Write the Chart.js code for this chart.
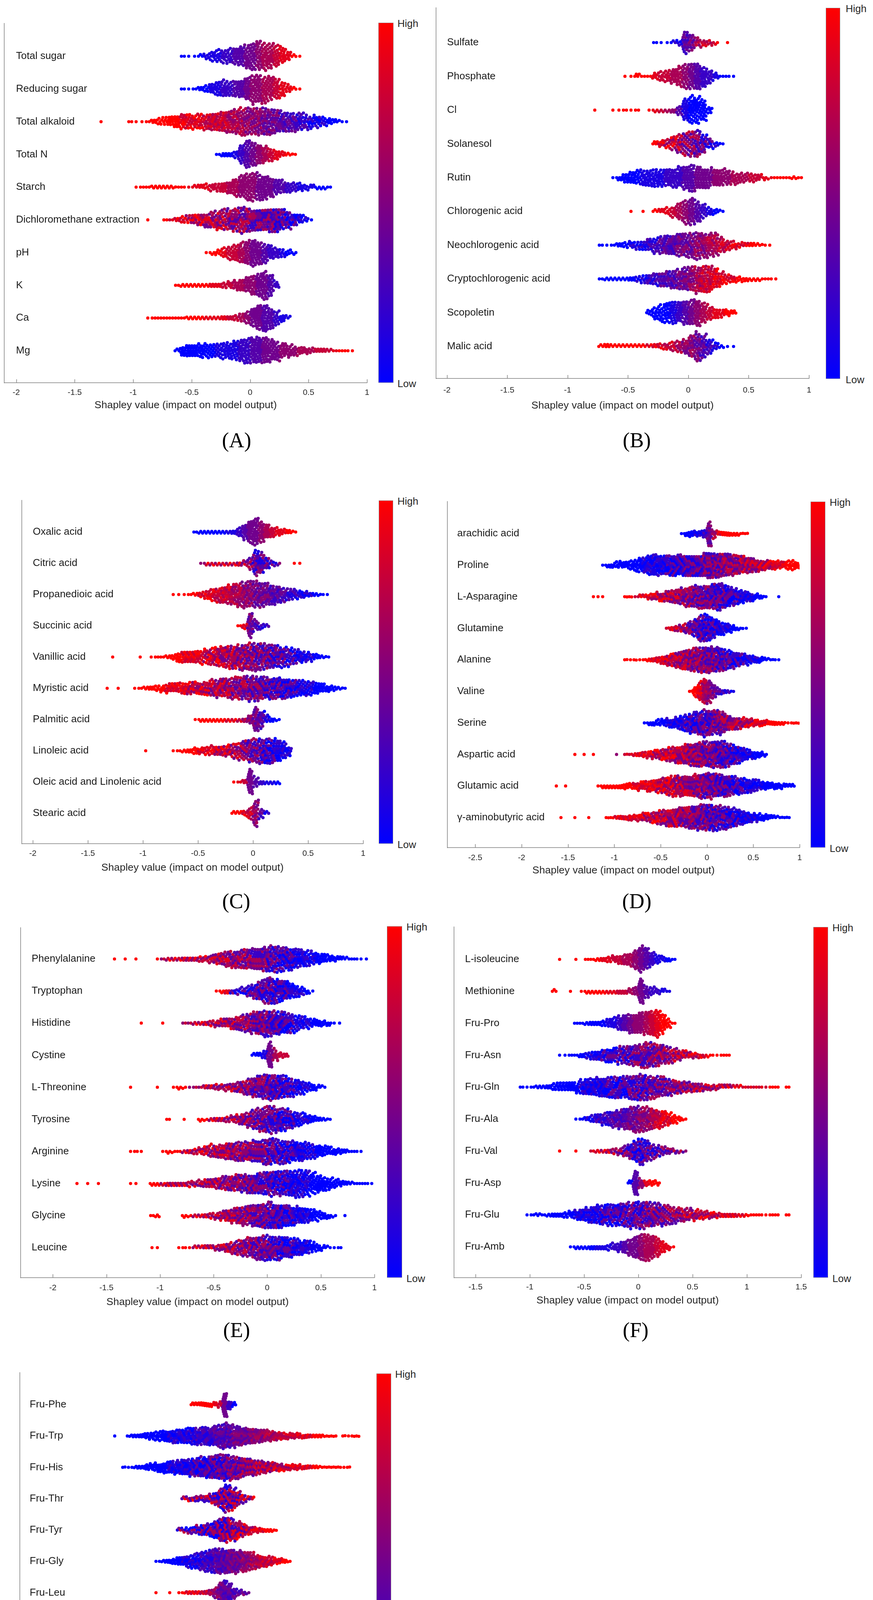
<!DOCTYPE html>
<html><head><meta charset="utf-8">
<script src="https://cdn.jsdelivr.net/npm/chart.js@4.4.1/dist/chart.umd.min.js"></script>
<style>
html,body{margin:0;padding:0;background:#fff;}
body{width:2236px;height:4574px;position:relative;overflow:hidden;font-family:"Liberation Sans",Arial,sans-serif;}
canvas{position:absolute;}
.cb{position:absolute;background:linear-gradient(to bottom,#ff0000,#0000ff);border:1px solid #9a9a9a;box-sizing:border-box;}
.cbl{position:absolute;font-size:26px;color:#262626;line-height:1;transform:translateY(-50%);white-space:nowrap;}
.cap{position:absolute;font-family:"Liberation Serif","Times New Roman",serif;font-size:54px;color:#000;transform:translate(-50%,-50%);line-height:1;white-space:nowrap;}
</style></head><body>
<script>
// ---------- DATA: per panel, per feature: start of first 0.05-wide SHAP bin, dot counts per bin,
// feature-value colour per bin (0 = low/blue ... 9 = high/red) and how mixed the colours look in each row
const BIN = 0.05;

const A_names = ["Total sugar","Reducing sugar","Total alkaloid","Total N","Starch","Dichloromethane extraction","pH","K","Ca","Mg"];
const A_ticks = [-2,-1.5,-1,-0.5,0,0.5,1];
const A_lo = [-0.60,-0.60,-1.30,-0.30,-1.00,-0.90,-0.40,-0.65,-0.90,-0.65];
const A_mix = [0,0,1,0,0,2,0,0,0,0];
const A_n = [
[2,1,1,3,5,8,10,11,12,14,17,20,22,23,22,20,18,14,8,3,1],
[2,1,2,4,6,9,12,14,12,13,15,20,23,23,22,20,17,12,7,3,1],
[1,0,0,0,0,2,1,1,2,4,6,7,9,11,13,13,12,13,13,15,16,18,19,21,23,23,22,23,23,22,20,18,16,16,15,12,11,10,8,6,4,2,1],
[2,4,4,6,16,23,20,17,14,11,8,5,3,2],
[1,2,2,3,3,3,3,2,2,1,3,4,5,6,7,9,11,15,19,22,23,22,21,17,13,11,9,8,7,5,4,3,3,2],
[1,0,0,2,2,4,6,7,9,10,12,14,16,17,18,20,22,21,19,19,19,21,22,18,15,11,8,5,1],
[1,3,5,8,11,14,17,20,23,20,16,12,9,7,5,3],
[2,3,3,3,3,3,4,4,5,6,8,10,13,16,20,24,18,6],
[1,2,2,2,2,2,2,3,3,3,3,3,3,4,4,5,7,10,16,22,23,18,12,7,3],
[3,9,11,11,12,12,12,12,13,14,16,19,21,22,23,23,19,16,13,11,9,7,6,5,4,4,3,2,2,2,1]];
const A_c = [
[0,0,0,0,1,1,1,2,2,3,3,4,4,5,6,6,7,8,8,9,9],
[0,0,0,0,0,1,1,2,2,3,3,4,5,5,6,6,7,8,8,9,9],
[9,9,9,9,9,9,9,9,9,9,9,9,9,9,8,8,8,8,7,7,7,7,6,6,6,5,5,5,4,4,4,3,3,3,2,2,1,1,1,0,0,0,0],
[0,0,0,1,2,3,4,5,6,7,8,8,9,9],
[9,9,9,9,9,9,9,9,9,8,8,8,8,7,7,7,6,6,5,5,5,4,4,4,3,3,2,2,1,1,1,0,0,0],
[9,9,9,9,8,8,8,7,7,7,6,6,6,6,5,5,5,5,4,4,4,4,3,3,2,2,1,1,0],
[9,9,9,8,7,7,6,5,4,4,3,2,2,1,0,0],
[9,9,9,9,9,9,8,8,7,7,6,6,5,5,4,4,3,2],
[9,9,9,9,9,9,9,9,9,9,8,8,8,8,7,7,6,5,4,4,3,3,2,1,1],
[0,0,0,0,0,0,0,1,1,1,1,2,2,3,3,4,4,4,5,5,5,6,6,6,7,7,7,8,9,9,9]];

const B_names = ["Sulfate","Phosphate","Cl","Solanesol","Rutin","Chlorogenic acid","Neochlorogenic acid","Cryptochlorogenic acid","Scopoletin","Malic acid"];
const B_ticks = [-2,-1.5,-1,-0.5,0,0.5,1];
const B_lo = [-0.30,-0.55,-0.80,-0.30,-0.65,-0.50,-0.75,-0.75,-0.35,-0.75];
const B_mix = [1,0,0,2,0,0,1,1,0,1];
const B_n = [
[2,1,1,3,5,20,14,8,6,5,3,0,1],
[1,1,4,2,2,6,8,10,13,17,20,22,23,18,12,6,2,2,1],
[1,0,0,1,1,2,1,2,0,1,3,3,3,4,8,19,23,22,18,6],
[4,6,8,12,16,19,21,23,16,9,5,2],
[1,4,8,10,12,13,14,15,15,15,16,18,20,23,20,18,16,15,14,13,11,9,8,8,6,4,2,2,2,2,3,2],
[1,0,1,0,3,4,6,9,14,19,23,18,12,7,5,2],
[2,1,2,4,5,6,7,8,11,13,15,17,18,20,20,21,23,21,20,19,13,9,7,5,4,4,3,2,1],
[2,3,3,3,3,4,5,7,9,10,12,14,16,17,20,21,22,23,23,17,12,8,6,5,4,3,3,2,2,1],
[5,10,14,17,19,18,20,21,23,17,12,9,7,6,4],
[3,4,3,3,3,3,3,3,3,4,5,6,8,10,13,19,25,20,13,7,3,1,1]];
const B_c = [
[0,0,0,1,1,3,4,6,7,7,8,9,9],
[9,9,9,9,9,8,7,7,6,6,5,4,3,2,2,1,0,0,0],
[9,9,9,9,9,9,9,9,9,9,8,7,6,5,3,1,0,0,0,0],
[9,8,7,7,6,5,5,4,3,2,1,0],
[0,0,0,0,0,1,1,1,1,2,2,2,3,3,4,4,4,5,5,5,6,6,6,7,7,8,8,9,9,9,9,9],
[9,9,9,9,9,8,8,7,6,5,4,3,2,1,0,0],
[0,0,0,0,0,1,1,1,2,2,3,3,3,4,4,4,5,5,6,6,7,7,8,8,8,9,9,9,9],
[0,0,0,0,0,0,1,1,2,2,3,3,3,4,4,5,6,7,7,8,8,8,8,9,9,9,9,9,9,9],
[0,0,0,0,1,2,3,4,5,6,7,8,8,9,9],
[9,9,9,9,9,9,9,9,8,8,8,7,7,6,5,5,4,3,2,1,0,0,0]];

const C_names = ["Oxalic acid","Citric acid","Propanedioic acid","Succinic acid","Vanillic acid","Myristic acid","Palmitic acid","Linoleic acid","Oleic acid and Linolenic acid","Stearic acid"];
const C_ticks = [-2,-1.5,-1,-0.5,0,0.5,1];
const C_lo = [-0.55,-0.50,-0.75,-0.15,-1.30,-1.35,-0.55,-1.00,-0.20,-0.20];
const C_mix = [0,2,1,1,2,2,1,2,0,1];
const C_n = [
[2,3,3,3,3,3,3,4,8,13,20,23,18,13,9,7,5,4,2],
[1,3,3,3,3,3,3,4,5,10,22,18,10,5,3,0,0,1,1],
[1,1,1,2,3,5,7,10,12,14,16,18,20,22,22,22,21,19,17,15,12,10,9,7,6,4,3,2,1],
[2,5,22,9,5,3],
[1,0,0,0,0,1,0,1,2,2,3,5,9,10,10,11,11,12,14,16,18,19,20,21,22,23,23,22,21,20,19,17,15,13,11,9,7,5,3,2],
[1,0,1,0,0,1,2,3,4,5,6,8,8,9,10,11,11,11,12,14,15,16,17,18,19,20,21,21,20,19,19,19,18,17,15,14,13,12,10,8,6,5,3,2],
[1,3,3,3,3,3,3,3,3,4,8,21,15,7,4,2],
[1,0,0,0,0,1,2,3,4,6,6,7,8,8,9,10,12,14,17,19,20,21,22,21,19,15,9],
[1,2,4,22,8,4,3,3,3],
[3,3,5,10,22,8,3]];
const C_c = [
[0,0,0,0,0,0,1,1,2,3,4,4,5,6,7,8,8,9,9],
[7,7,7,7,7,7,7,7,6,5,3,3,3,3,3,9,9,9,9],
[9,9,9,9,9,8,8,8,7,7,7,6,6,5,5,4,4,4,3,3,3,2,2,1,1,1,0,0,0],
[9,8,4,3,2,2],
[9,9,9,9,9,9,9,9,9,9,9,9,9,8,8,8,8,7,7,7,6,6,6,5,5,5,4,4,4,3,3,3,2,2,1,1,1,0,0,0],
[9,9,9,9,9,9,9,9,9,9,9,8,8,8,8,7,7,7,7,6,6,6,6,5,5,5,4,4,4,3,3,3,2,2,2,1,1,1,0,0,0,0,0,0],
[9,9,9,9,9,9,8,8,7,6,5,4,3,1,0,0],
[9,9,9,9,9,9,9,9,9,9,8,8,8,7,7,7,6,6,5,4,4,3,2,2,1,1,1],
[9,8,7,4,3,2,1,1,0],
[9,9,8,7,5,3,1]];

const D_names = ["arachidic acid","Proline","L-Asparagine","Glutamine","Alanine","Valine","Serine","Aspartic acid","Glutamic acid","γ-aminobutyric acid"];
const D_ticks = [-2.5,-2,-1.5,-1,-0.5,0,0.5,1];
const D_lo = [-0.30,-1.15,-1.25,-0.45,-0.90,-0.20,-0.70,-1.45,-1.65,-1.60];
const D_mix = [1,2,2,2,2,1,2,2,2,2];
const D_n = [
[1,4,5,5,5,7,22,7,4,4,4,3,3,2,2],
[1,3,4,5,6,6,7,9,11,13,16,18,17,16,17,18,18,18,19,19,19,19,21,23,22,21,20,19,18,17,15,14,13,11,10,9,8,8,7,6,7,8,6],
[1,1,1,0,0,0,0,2,2,1,3,3,5,6,7,8,9,11,12,14,15,17,18,19,19,20,22,23,21,18,15,13,11,9,7,5,4,2,0,0,1],
[2,4,5,6,8,11,15,21,23,20,16,13,10,8,6,3,2,1],
[2,1,2,1,2,3,4,5,7,9,11,13,15,17,19,20,21,22,23,22,20,18,16,14,12,10,9,7,6,5,3,2,2,1],
[2,9,16,22,18,11,6,4,3,2],
[1,3,4,5,6,7,8,10,12,14,16,18,20,22,21,21,21,18,13,11,10,9,8,7,6,6,5,4,4,3,3,1,2,2],
[1,0,1,0,1,0,0,0,0,1,0,2,2,3,4,5,6,7,8,9,11,12,14,15,17,18,20,21,21,21,22,22,23,20,17,15,12,10,7,6,5,3],
[1,0,1,0,0,0,0,0,0,1,3,3,3,3,4,5,5,6,7,8,9,10,12,13,15,16,17,17,18,18,19,20,21,22,21,20,19,18,16,14,13,12,11,10,8,7,6,6,5,4,3,3],
[1,0,0,1,0,0,1,0,0,0,2,2,3,4,4,5,5,6,7,8,9,11,12,14,15,16,17,18,19,20,21,22,22,21,20,19,18,16,14,12,10,8,7,6,6,4,3,2,2,2]];
const D_c = [
[0,0,0,1,1,2,4,6,8,9,9,9,9,9,9],
[0,0,0,0,0,0,0,0,0,1,1,1,1,1,2,2,2,2,3,3,3,3,4,4,4,4,5,5,5,5,6,6,6,6,7,7,7,8,8,8,9,9,9],
[9,9,9,9,9,9,9,9,9,8,8,8,8,7,7,7,6,6,6,5,5,5,4,4,4,4,3,3,3,2,2,2,1,1,1,0,0,0,0,0,0],
[8,8,7,6,5,4,3,3,2,2,2,1,1,1,0,0,0,0],
[9,9,9,9,9,9,8,8,8,7,7,6,6,6,5,5,5,4,4,4,3,3,3,2,2,2,1,1,1,0,0,0,0,0],
[9,9,8,6,5,4,3,2,2,1],
[0,0,0,0,0,1,1,1,1,2,2,2,3,3,3,4,4,5,5,6,6,6,7,7,8,8,8,9,9,9,9,9,9,9],
[9,9,9,9,9,9,9,9,9,7,7,8,8,8,8,8,8,7,7,7,7,7,6,6,6,5,5,5,4,4,4,3,3,3,2,2,1,1,1,0,0,0],
[9,9,9,9,9,9,9,9,9,9,9,9,9,9,9,9,9,8,8,8,8,8,7,7,7,7,6,6,6,5,5,5,4,4,4,3,3,3,2,2,2,1,1,1,1,0,0,0,0,0,0,0],
[9,9,9,9,9,9,9,9,9,9,9,9,8,8,8,8,8,8,7,7,7,7,6,6,6,6,5,5,5,4,4,4,3,3,3,3,2,2,2,1,1,1,1,0,0,0,0,0,0,0]];

const E_names = ["Phenylalanine","Tryptophan","Histidine","Cystine","L-Threonine","Tyrosine","Arginine","Lysine","Glycine","Leucine"];
const E_ticks = [-2,-1.5,-1,-0.5,0,0.5,1];
const E_lo = [-1.45,-0.50,-1.20,-0.15,-1.30,-0.95,-1.30,-1.80,-1.10,-1.10];
const E_mix = [2,2,2,0,2,2,2,2,2,2];
const E_n = [
[1,0,1,0,1,0,0,0,1,2,3,3,3,4,4,4,5,5,7,9,11,13,14,15,16,17,18,19,21,22,22,21,20,19,17,15,13,11,9,8,6,5,4,3,2,2,1,1],
[1,3,4,4,5,6,9,12,16,20,23,21,19,16,13,10,7,4,1],
[1,0,0,0,1,0,0,0,2,2,3,3,4,5,6,7,8,10,12,14,16,19,21,22,22,21,20,18,16,13,11,9,7,6,5,4,1,1],
[3,4,7,22,9,5,4],
[1,0,0,0,0,1,0,0,1,3,2,1,2,2,4,4,5,5,6,7,9,11,14,17,19,21,22,21,20,18,15,13,11,8,6,4,2],
[2,0,0,1,0,0,3,2,3,4,4,5,6,8,10,13,16,19,21,23,21,20,18,15,12,10,8,6,4,3,2],
[1,2,1,0,0,0,1,3,2,2,3,4,5,6,8,10,11,12,14,15,16,17,17,18,19,21,22,21,20,19,18,17,16,14,12,10,9,7,6,5,4,2,2,1],
[1,0,1,0,1,0,0,0,0,0,1,1,0,0,3,3,3,4,4,4,4,5,5,6,7,8,9,11,12,13,14,15,16,17,18,19,20,20,21,21,22,23,22,20,17,15,12,10,8,6,4,3,2,2,2,1],
[2,3,0,0,0,0,3,2,3,3,4,5,6,8,10,12,14,16,17,19,20,21,22,21,20,19,17,15,14,12,10,8,6,4,2,0,1],
[1,1,0,0,0,1,2,1,3,3,4,4,5,6,8,10,12,14,16,18,20,22,21,20,20,18,17,15,13,11,9,6,4,2,1,2]];
const E_c = [
[9,9,9,9,9,9,9,9,9,7,7,7,7,7,7,7,7,7,6,6,6,6,5,5,5,5,4,4,4,3,3,2,2,2,1,1,1,1,0,0,0,0,0,0,0,0,0,0],
[9,9,8,3,2,2,2,3,3,3,3,2,2,2,1,1,1,0,0],
[9,9,9,9,9,9,9,9,7,7,7,7,7,7,6,6,6,6,5,5,5,4,4,4,3,3,2,2,2,1,1,1,0,0,0,0,0,0],
[0,0,1,4,6,7,7],
[9,9,9,9,9,9,9,9,9,9,9,7,7,7,7,7,6,6,6,6,5,5,5,4,4,4,3,3,2,2,2,1,1,1,0,0,0],
[9,9,9,9,9,9,9,9,7,7,7,6,6,6,5,5,4,4,4,3,3,2,2,2,1,1,1,0,0,0,0],
[9,9,9,9,9,9,9,9,9,9,7,7,7,7,7,6,6,6,6,5,5,5,5,4,4,4,3,3,2,2,2,1,1,1,1,0,0,0,0,0,0,0,0,0],
[9,9,9,9,9,9,9,9,9,9,9,9,9,9,9,9,7,7,7,7,7,7,6,6,6,6,6,5,5,5,5,4,4,4,3,3,3,2,2,2,1,1,1,1,0,0,0,0,0,0,0,0,0,0,0,0],
[9,9,9,9,9,9,9,9,7,7,7,7,6,6,6,6,5,5,5,4,4,4,3,3,2,2,2,1,1,1,0,0,0,0,0,0,0],
[9,9,9,9,9,9,9,9,7,7,7,7,6,6,6,6,5,5,5,4,4,4,3,3,2,2,2,1,1,1,0,0,0,0,0,0]];

const F_names = ["L-isoleucine","Methionine","Fru-Pro","Fru-Asn","Fru-Gln","Fru-Ala","Fru-Val","Fru-Asp","Fru-Glu","Fru-Amb"];
const F_ticks = [-1.5,-1,-0.5,0,0.5,1,1.5];
const F_lo = [-0.75,-0.80,-0.60,-0.75,-1.10,-0.60,-0.75,-0.10,-1.05,-0.65];
const F_mix = [0,0,0,2,2,1,2,0,2,0];
const F_n = [
[1,0,0,1,0,2,2,3,4,5,6,7,9,11,16,23,18,12,8,5,4,2],
[3,0,0,1,0,1,3,3,3,3,3,3,4,4,5,7,22,10,7,5,4,2],
[2,2,3,4,4,5,7,9,12,14,16,17,18,19,21,23,16,8,2],
[1,1,2,2,4,5,7,8,10,12,13,14,15,16,18,20,22,21,19,17,14,12,9,7,6,5,4,3,2,1,2,2],
[2,1,2,3,3,4,6,7,7,8,9,12,14,15,16,17,18,18,19,19,20,21,22,21,19,18,17,14,13,11,10,9,8,7,6,5,5,4,4,3,3,2,2,2,2,1,2,2,0,2],
[1,2,4,6,8,10,12,14,16,18,20,22,21,20,18,16,14,11,8,5,2],
[1,0,0,1,0,0,2,3,3,4,5,6,9,13,18,23,18,13,10,8,6,4,3,2],
[4,22,8,5,5,4],
[1,2,3,2,3,4,4,5,6,8,10,12,14,16,17,18,18,19,20,21,22,23,22,21,19,18,16,14,12,11,10,9,8,7,6,5,4,4,4,3,3,2,2,2,1,2,2,0,2],
[1,3,3,3,4,4,4,5,6,8,11,14,18,22,23,20,16,10,5,1]];
const F_c = [
[9,9,9,9,9,9,9,9,8,8,7,7,6,6,5,4,3,2,1,1,0,0],
[9,9,9,9,9,9,9,9,9,9,8,8,7,7,6,5,4,3,2,2,1,1],
[0,0,0,0,0,0,1,1,2,3,4,5,5,6,7,8,9,9,9],
[0,0,0,0,0,1,1,1,2,2,2,3,3,3,4,4,4,4,5,5,5,6,6,7,7,7,8,8,9,9,9,9],
[0,0,0,0,0,0,0,0,0,0,0,1,1,1,1,1,2,2,2,2,3,3,3,3,4,4,4,4,5,5,5,5,6,6,6,6,7,7,7,7,8,8,8,8,8,8,9,9,9,9],
[0,0,1,1,2,2,2,3,3,3,4,4,5,5,6,7,8,8,9,9,9],
[9,9,9,9,9,9,8,8,7,7,6,5,4,3,2,2,3,3,3,4,4,5,5,5],
[0,3,5,8,9,9],
[0,0,0,0,0,0,0,0,0,1,1,1,1,1,2,2,2,2,3,3,3,3,4,4,4,4,5,5,5,6,6,6,7,7,7,7,8,8,8,8,8,9,9,9,9,9,9,9,9],
[0,0,0,0,0,1,1,1,2,2,3,4,4,5,6,6,7,8,8,9]];

const G_names = ["Fru-Phe","Fru-Trp","Fru-His","Fru-Thr","Fru-Tyr","Fru-Gly","Fru-Leu","Fru-Ile","Glu-An","Neophytadiene"];
const G_ticks = [-2,-1.5,-1,-0.5,0,0.5,1,1.5];
const G_lo = [-0.35,-1.20,-1.10,-0.45,-0.50,-0.75,-0.75,-0.75,-1.60,-0.55];
const G_mix = [0,1,2,3,3,1,1,1,2,0];
const G_n = [
[3,3,4,4,4,4,5,22,8,4],
[1,0,0,2,3,3,4,5,6,7,8,9,10,11,12,12,13,14,14,15,16,16,17,19,21,20,18,17,16,14,13,12,11,10,9,8,7,6,6,5,5,4,4,3,3,3,2,2,2,0,2,1,2,2],
[2,1,2,3,3,5,6,7,8,9,10,11,12,13,14,15,16,17,18,19,20,21,22,21,19,18,17,15,14,12,11,10,9,8,7,6,6,5,5,4,4,3,3,2,2,2,2,2,1,2],
[3,4,4,5,5,6,8,11,16,22,21,17,12,7,4,3],
[3,4,5,6,7,9,10,12,15,19,22,20,17,14,11,8,6,5,4,3,3,2],
[1,2,3,4,5,7,8,10,12,13,15,17,19,21,22,21,21,20,19,17,16,14,12,10,9,8,6,5,4,2],
[1,0,0,1,0,1,2,3,3,3,3,4,5,9,17,23,17,9,5,4,2],
[1,0,0,1,0,0,2,3,3,3,3,4,5,8,16,23,16,9,5,4,2],
[2,1,0,0,0,0,0,3,0,0,3,3,3,4,4,4,5,6,7,9,10,11,12,14,15,16,17,18,19,20,21,22,22,22,21,20,18,16,14,12,10,8,7,6,5,4,4,3,2],
[2,3,3,3,3,4,4,4,5,6,8,22,10,6,5,4,2]];
const G_c = [
[9,9,9,9,9,8,7,4,2,0],
[0,0,0,0,0,0,0,0,0,0,0,0,1,1,1,1,1,1,2,2,2,2,3,3,3,3,4,4,4,4,5,5,5,6,6,6,7,7,7,7,8,8,8,8,9,9,9,9,9,9,9,9,9,9],
[0,0,0,0,0,0,0,0,0,0,1,1,1,1,1,2,2,2,2,3,3,3,3,4,4,4,5,5,5,6,6,6,6,7,7,7,7,8,8,8,8,8,9,9,9,9,9,9,9,9],
[6,6,6,5,5,5,5,4,4,4,4,5,5,6,6,7],
[4,4,3,3,3,3,3,3,3,4,4,5,5,6,6,7,7,8,8,9,9,9],
[0,0,0,0,0,0,1,1,1,1,2,2,2,3,3,3,4,4,4,5,5,6,6,7,7,7,8,8,9,9],
[9,9,9,9,9,9,9,8,8,8,7,7,6,5,4,3,3,3,3,4,4],
[9,9,9,9,9,9,9,8,8,8,7,7,6,5,4,3,3,3,3,2,2],
[9,9,9,9,9,9,9,9,9,9,9,9,9,9,9,9,9,9,9,9,8,8,8,8,8,7,7,7,6,6,6,6,5,5,4,4,3,3,2,2,2,1,1,1,0,0,0,0,0],
[9,9,9,9,9,8,8,8,7,7,6,4,3,2,1,1,0]];

const AXIS_TITLE = "Shapley value (impact on model output)";

// ---------- LAYOUT (page pixels)
const PANELS = [
 {cap:"(A)", names:A_names, ticks:A_ticks, lo:A_lo, n:A_n, c:A_c, mix:A_mix, L:11,  R:940,  T:60,   B:980,  xr:[-2.1025,1], r0:144,  r9:898,  cbx:969,  cbw:39, cbT:58,   cbB:980,  hx:1018, tOff:25, ttl:58, gap:30, capX:606,  capY:1127},
 {cap:"(B)", names:B_names, ticks:B_ticks, lo:B_lo, n:B_n, c:B_c, mix:B_mix, L:1117,R:2072, T:20,   B:969,  xr:[-2.09,1],   r0:109,  r9:887,  cbx:2115, cbw:37, cbT:20,   cbB:970,  hx:2166, tOff:30, ttl:70, gap:28, capX:1631, capY:1127},
 {cap:"(C)", names:C_names, ticks:C_ticks, lo:C_lo, n:C_n, c:C_c, mix:C_mix, L:56,  R:930,  T:1281, B:2160, xr:[-2.1,1],    r0:1362, r9:2082, cbx:970,  cbw:37, cbT:1281, cbB:2160, hx:1018, tOff:25, ttl:62, gap:28, capX:605,  capY:2307},
 {cap:"(D)", names:D_names, ticks:D_ticks, lo:D_lo, n:D_n, c:D_c, mix:D_mix, L:1146,R:2048, T:1284, B:2170, xr:[-2.8,1],    r0:1366, r9:2093, cbx:2076, cbw:38, cbT:1284, cbB:2170, hx:2125, tOff:26, ttl:59, gap:25, capX:1631, capY:2307},
 {cap:"(E)", names:E_names, ticks:E_ticks, lo:E_lo, n:E_n, c:E_c, mix:E_mix, L:53,  R:959,  T:2375, B:3271, xr:[-2.3,1],    r0:2455, r9:3194, cbx:991,  cbw:39, cbT:2371, cbB:3271, hx:1041, tOff:26, ttl:63, gap:28, capX:606,  capY:3405},
 {cap:"(F)", names:F_names, ticks:F_ticks, lo:F_lo, n:F_n, c:F_c, mix:F_mix, L:1163,R:2052, T:2373, B:3271, xr:[-1.697,1.5],r0:2456, r9:3192, cbx:2083, cbw:38, cbT:2373, cbB:3271, hx:2132, tOff:24, ttl:59, gap:28, capX:1628, capY:3405},
 {cap:"(G)", names:G_names, ticks:G_ticks, lo:G_lo, n:G_n, c:G_c, mix:G_mix, L:51,  R:945,  T:3514, B:4396, xr:[-2.209,1.598],r0:3596,r9:4318, cbx:964,  cbw:38, cbT:3516, cbB:4396, hx:1012, tOff:25, ttl:60, gap:25, capX:560,  capY:4537}
];

Chart.defaults.font.family = '"Liberation Sans", Arial, sans-serif';
const AXIS_COL = '#7f7f7f', TXT = '#262626';

function colorOf(v){ const f = Math.max(0, Math.min(9, v)) / 9; return 'rgb(' + Math.round(255*f) + ',0,' + Math.round(255*(1-f)) + ')'; }

// deterministic beeswarm layout: each dot gets the smallest vertical offset that avoids overlapping earlier dots
function swarm(xp, D){
  const n = xp.length, ys = new Float64Array(n);
  let start = 0;
  for (let i = 0; i < n; i++) {
    while (start < i && xp[i] - xp[start] >= D) start++;
    const iv = [];
    for (let j = start; j < i; j++) { const dx = xp[i] - xp[j]; if (dx < D) { const h = Math.sqrt(D*D - dx*dx); iv.push(ys[j] - h, ys[j] + h); } }
    if (!iv.length) { ys[i] = 0; continue; }
    const cands = [0].concat(iv);
    const sgn = (i % 2) ? 1 : -1;
    cands.sort((a, b) => (Math.abs(a) - Math.abs(b)) || sgn * (a - b));
    for (const c of cands) {
      let ok = true;
      for (let m = 0; m < iv.length; m += 2) { if (c > iv[m] + 1e-6 && c < iv[m+1] - 1e-6) { ok = false; break; } }
      if (ok) { ys[i] = c; break; }
    }
  }
  return ys;
}

const tickMarks = {
  id: 'tickMarks',
  afterDraw(chart){
    const xs = chart.scales.x, ctx = chart.ctx, b = chart.chartArea.bottom;
    ctx.save(); ctx.strokeStyle = AXIS_COL; ctx.lineWidth = 1.5;
    xs.ticks.forEach(t => { const px = Math.round(xs.getPixelForValue(t.value)) + 0.5; ctx.beginPath(); ctx.moveTo(px, b); ctx.lineTo(px, b - 9); ctx.stroke(); });
    ctx.restore();
  }
};

function addDiv(cls, css, text){ const d = document.createElement('div'); d.className = cls; Object.assign(d.style, css); if (text) d.textContent = text; document.body.appendChild(d); return d; }

PANELS.forEach(p => {
  const rowPx = (p.r9 - p.r0) / 9;
  const pxPerUnit = (p.R - p.L) / (p.xr[1] - p.xr[0]);
  const D = Math.sqrt(3 * BIN * pxPerUnit);
  const pts = [], cols = [];
  p.n.forEach((row, r) => {
    const cr = p.c[r], mx = p.mix[r];
    const xs = [], cs = [];
    row.forEach((cnt, i) => {
      const x0 = p.lo[r] + i * BIN;
      const cv0 = cr[Math.min(i, cr.length - 1)];
      const m = Math.min(mx, cv0, 9 - cv0);
      for (let k = 0; k < cnt; k++) {
        xs.push(x0 + BIN * (k + 0.5) / cnt);
        cs.push(colorOf(cv0 + ((k % 3) - 1) * m));
      }
    });
    const ys = swarm(xs.map(x => x * pxPerUnit), D);
    xs.forEach((x, k) => { pts.push({ x: x, y: r + ys[k] / rowPx }); cols.push(cs[k]); });
  });

  const padL = 30, padR = 34, padT = 56, padB = 5;
  const xH = p.ttl + 16;
  const W = (p.R - p.L) + padL + padR;
  const H = (p.B - p.T) + padT + xH + padB;
  const cv = document.createElement('canvas');
  cv.width = W; cv.height = H;
  cv.style.left = (p.L - padL) + 'px'; cv.style.top = (p.T - padT) + 'px';
  cv.style.width = W + 'px'; cv.style.height = H + 'px';
  document.body.appendChild(cv);

  new Chart(cv, {
    type: 'scatter',
    data: { datasets: [{ data: pts, pointBackgroundColor: cols, pointBorderWidth: 0, pointRadius: 4.1, pointHoverRadius: 4.1 }] },
    options: {
      responsive: false, animation: false, devicePixelRatio: 1,
      events: [],
      layout: { padding: { left: padL - 1, right: padR, top: padT, bottom: padB } },
      plugins: { legend: { display: false }, tooltip: { enabled: false } },
      scales: {
        x: {
          type: 'linear', min: p.xr[0], max: p.xr[1],
          grid: { display: false, drawTicks: false },
          border: { display: true, color: AXIS_COL, width: 1.5 },
          afterBuildTicks: s => { s.ticks = p.ticks.map(v => ({ value: v })); },
          afterFit: s => { s.height = xH; },
          ticks: { autoSkip: false, maxRotation: 0, padding: p.tOff - 12.6, color: TXT, font: { size: 21 }, callback: v => String(v) },
          title: { display: true, text: AXIS_TITLE, color: TXT, font: { size: 26.5 }, padding: { top: 0, bottom: 0 } }
        },
        y: {
          type: 'linear', reverse: true,
          min: -(p.r0 - p.T) / rowPx, max: 9 + (p.B - p.r9) / rowPx,
          grid: { display: false, drawTicks: false },
          border: { display: true, color: AXIS_COL, width: 1.5 },
          afterBuildTicks: s => { s.ticks = p.names.map((_, i) => ({ value: i })); },
          afterFit: s => { s.width = 1; },
          ticks: { mirror: true, autoSkip: false, padding: p.gap, color: '#1a1a1a', font: { size: 26 }, callback: v => p.names[v] }
        }
      }
    },
    plugins: [tickMarks]
  });

  addDiv('cb', { left: p.cbx + 'px', top: p.cbT + 'px', width: p.cbw + 'px', height: (p.cbB - p.cbT) + 'px' });
  addDiv('cbl', { left: p.hx + 'px', top: (p.cbT + 2) + 'px' }, 'High');
  addDiv('cbl', { left: p.hx + 'px', top: (p.cbB + 2) + 'px' }, 'Low');
  addDiv('cap', { left: p.capX + 'px', top: p.capY + 'px' }, p.cap);
});
</script>
</body></html>
